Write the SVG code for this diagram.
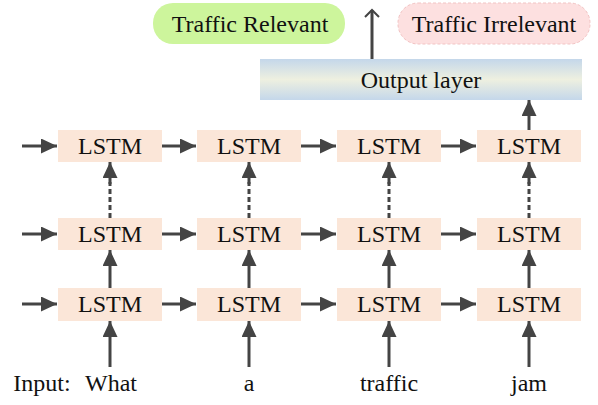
<svg xmlns="http://www.w3.org/2000/svg" width="598" height="405" viewBox="0 0 598 405">
<style>
.t{font-family:'Liberation Serif','Times New Roman','DejaVu Serif',serif;font-size:24px;fill:#111;text-anchor:middle}
.box{fill:#fbe6d8}
.c{stroke:#444;stroke-width:3;fill:none}
.d{stroke:#444;stroke-width:3;fill:none;stroke-dasharray:5,3}
</style>
<defs>
<marker id="ah" markerWidth="17" markerHeight="15" refX="16" refY="7.5" orient="auto" markerUnits="userSpaceOnUse"><path d="M0,0 L16,7.5 L0,15 Z" fill="#444"/></marker>
<marker id="oh" markerWidth="10" markerHeight="16" refX="8" refY="8" orient="auto" markerUnits="userSpaceOnUse"><path d="M1,1 L8,8 L1,15" fill="none" stroke="#444" stroke-width="2"/></marker>
<linearGradient id="og" x1="0" y1="0" x2="0" y2="1">
<stop offset="0" stop-color="#c4d7ea"/><stop offset="0.5" stop-color="#eef0e0"/><stop offset="1" stop-color="#c4d7ea"/>
</linearGradient>
</defs>
<g id="relevant"><rect x="153" y="3" width="192" height="41" rx="20" fill="#cdf59c"/><text class="t" x="250" y="32">Traffic Relevant</text></g>
<g id="irrelevant"><rect x="398" y="3" width="192" height="41" rx="20" fill="#fde0e0" stroke="#f2c3c3" stroke-dasharray="3,2"/><text class="t" x="494" y="32">Traffic Irrelevant</text></g>
<g id="output"><rect x="260" y="59" width="322" height="41" fill="url(#og)"/><text class="t" x="421" y="88">Output layer</text></g>
<g id="l11"><rect class="box" x="58" y="130" width="104" height="32"/><text class="t" x="110" y="154">LSTM</text></g>
<g id="l12"><rect class="box" x="197" y="130" width="104" height="32"/><text class="t" x="249" y="154">LSTM</text></g>
<g id="l13"><rect class="box" x="337" y="130" width="104" height="32"/><text class="t" x="389" y="154">LSTM</text></g>
<g id="l14"><rect class="box" x="477" y="130" width="104" height="32"/><text class="t" x="529" y="154">LSTM</text></g>
<g id="l21"><rect class="box" x="58" y="218" width="104" height="32"/><text class="t" x="110" y="242">LSTM</text></g>
<g id="l22"><rect class="box" x="197" y="218" width="104" height="32"/><text class="t" x="249" y="242">LSTM</text></g>
<g id="l23"><rect class="box" x="337" y="218" width="104" height="32"/><text class="t" x="389" y="242">LSTM</text></g>
<g id="l24"><rect class="box" x="477" y="218" width="104" height="32"/><text class="t" x="529" y="242">LSTM</text></g>
<g id="l31"><rect class="box" x="58" y="288" width="104" height="33"/><text class="t" x="110" y="312">LSTM</text></g>
<g id="l32"><rect class="box" x="197" y="288" width="104" height="33"/><text class="t" x="249" y="312">LSTM</text></g>
<g id="l33"><rect class="box" x="337" y="288" width="104" height="33"/><text class="t" x="389" y="312">LSTM</text></g>
<g id="l34"><rect class="box" x="477" y="288" width="104" height="33"/><text class="t" x="529" y="312">LSTM</text></g>
<g id="inputs">
<text class="t" x="42" y="391">Input:</text>
<text class="t" x="111" y="391">What</text>
<text class="t" x="249" y="391">a</text>
<text class="t" x="389" y="391">traffic</text>
<text class="t" x="529" y="391">jam</text>
</g>
<g id="connectors">
<path class="c" d="M372,59 V10" marker-end="url(#oh)"/>
<g marker-end="url(#ah)">
<path class="c" d="M529,130 V100"/>
<path class="c" d="M22,146 H57"/><path class="c" d="M162,146 H196"/><path class="c" d="M301,146 H336"/><path class="c" d="M441,146 H476"/>
<path class="c" d="M22,234 H57"/><path class="c" d="M162,234 H196"/><path class="c" d="M301,234 H336"/><path class="c" d="M441,234 H476"/>
<path class="c" d="M22,304 H57"/><path class="c" d="M162,304 H196"/><path class="c" d="M301,304 H336"/><path class="c" d="M441,304 H476"/>
<path class="c" d="M110,367 V321"/><path class="c" d="M249,367 V321"/><path class="c" d="M389,367 V321"/><path class="c" d="M529,367 V321"/>
<path class="c" d="M110,288 V250"/><path class="c" d="M249,288 V250"/><path class="c" d="M389,288 V250"/><path class="c" d="M529,288 V250"/>
</g>
<path class="d" d="M110,218 V182"/><path class="d" d="M249,218 V182"/><path class="d" d="M389,218 V182"/><path class="d" d="M529,218 V182"/>
<g marker-end="url(#ah)">
<path class="c" d="M110,184 V162"/><path class="c" d="M249,184 V162"/><path class="c" d="M389,184 V162"/><path class="c" d="M529,184 V162"/>
</g>
</g>
</svg>
